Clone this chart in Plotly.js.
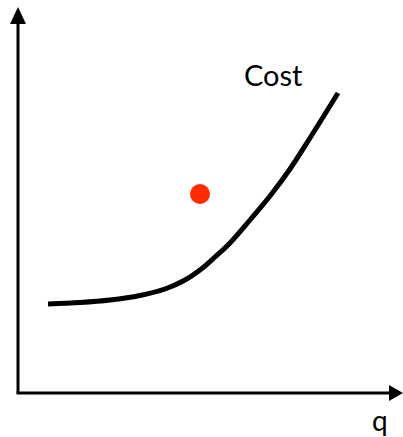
<!DOCTYPE html>
<html>
<head>
<meta charset="utf-8">
<script src="https://cdn.plot.ly/plotly-3.0.1.min.js"></script>
<style>html,body{margin:0;padding:0;background:#fff;}#chart{width:403px;height:437px;}</style>
</head>
<body>
<div id="chart"></div>
<script>
// Coordinates measured from the axes' origin (pixel units of the picture)
const costQ = [30, 62, 92, 122, 147, 167, 182, 197, 212, 232, 252, 272, 292, 307, 320];
const costValue = [89, 90.5, 93, 97.5, 104, 113, 123, 136, 150, 173, 197, 224, 255, 279, 300];
const pointQ = [182];
const pointValue = [199];
const curveLabel = "Cost";
const xLabel = "q";

const traces = [
  {x: costQ, y: costValue, type: 'scatter', mode: 'lines',
   line: {color: '#000', width: 5, shape: 'spline', smoothing: 1},
   hoverinfo: 'skip'},
  {x: pointQ, y: pointValue, type: 'scatter', mode: 'markers',
   marker: {color: '#ff2a00', size: 20}, hoverinfo: 'skip'}
];

const layout = {
  width: 403, height: 437,
  margin: {l: 0, r: 0, t: 0, b: 0},
  paper_bgcolor: '#fff', plot_bgcolor: '#fff',
  showlegend: false,
  xaxis: {range: [-18, 385], visible: false, fixedrange: true},
  yaxis: {range: [-44, 393], visible: false, fixedrange: true},
  shapes: [
    {type: 'line', xref: 'x', yref: 'y', x0: 0, y0: 0, x1: 0, y1: 372, line: {color: '#000', width: 3}},
    {type: 'path', xref: 'x', yref: 'y', path: 'M 0 386 L -8 369 L 8 369 Z', fillcolor: '#000', line: {width: 0}},
    {type: 'line', xref: 'x', yref: 'y', x0: -1.5, y0: 0, x1: 372, y1: 0, line: {color: '#000', width: 3}},
    {type: 'path', xref: 'x', yref: 'y', path: 'M 385 0 L 371 8 L 371 -8 Z', fillcolor: '#000', line: {width: 0}}
  ],
  annotations: [
    {x: 255, y: 319, xref: 'x', yref: 'y', text: curveLabel, showarrow: false,
     font: {family: 'Lato, sans-serif', size: 29, color: '#000'}},
    {x: 362, y: -27, xref: 'x', yref: 'y', text: xLabel, showarrow: false,
     font: {family: 'Lato, sans-serif', size: 28, color: '#000'}}
  ]
};

Plotly.newPlot('chart', traces, layout, {staticPlot: true, displayModeBar: false});
</script>
</body>
</html>
